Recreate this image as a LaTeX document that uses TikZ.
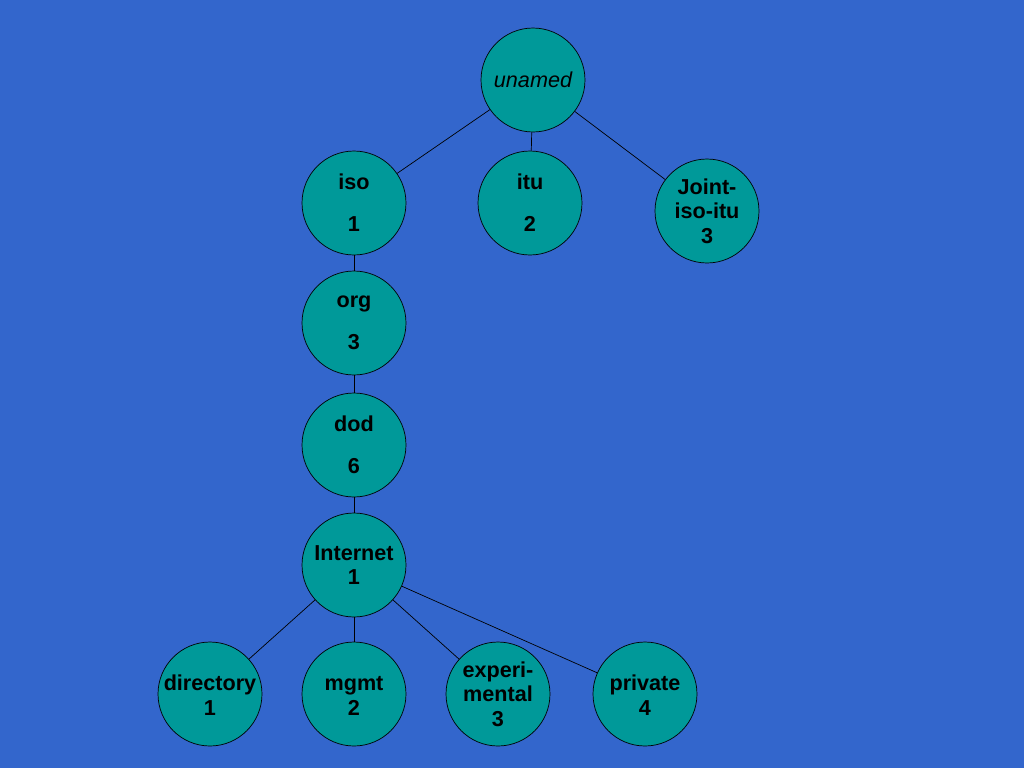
\documentclass[tikz,border=0pt]{standalone}
\usepackage{fontspec}
\setmainfont{Liberation Sans}
\definecolor{slide}{HTML}{3366CC}
\definecolor{teal}{HTML}{009999}
\begin{document}
\begin{tikzpicture}[x=0.02cm,y=-0.02cm]
\tikzset{oid/.style={circle,draw=black,fill=teal,minimum size=2.08cm,inner sep=0pt,align=center,font=\bfseries\fontsize{12.3}{14}\selectfont}}
\fill[slide] (0,0) rectangle (1024,768);
\useasboundingbox (0,0) rectangle (1024,768);
\node[oid,font=\itshape\fontsize{12.3}{14}\selectfont] (unamed) at (533,80) {unamed};
\node[oid] (iso) at (354,203) {iso\\[10pt]1};
\node[oid] (itu) at (530,203) {itu\\[10pt]2};
\node[oid] (joint) at (707,211) {Joint-\\iso-itu\\3};
\node[oid] (org) at (354,323) {org\\[10pt]3};
\node[oid] (dod) at (354,445) {dod\\[10pt]6};
\node[oid] (internet) at (354,565) {Internet\\1};
\node[oid] (directory) at (210,694) {\\[-4pt]directory\\1};
\node[oid] (mgmt) at (354,694) {\\[-4pt]mgmt\\2};
\node[oid] (exper) at (498,694) {experi-\\mental\\3};
\node[oid] (private) at (645,694) {\\[-4pt]private\\4};
\draw (unamed) -- (iso);
\draw (unamed) -- (itu);
\draw (unamed) -- (joint);
\draw (iso) -- (org);
\draw (org) -- (dod);
\draw (dod) -- (internet);
\draw (internet) -- (directory);
\draw (internet) -- (mgmt);
\draw (internet) -- (exper);
\draw (internet) -- (private);
\end{tikzpicture}
\end{document}
